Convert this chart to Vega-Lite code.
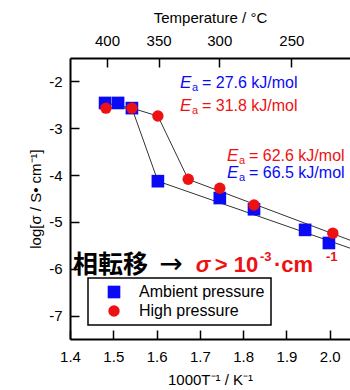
{
  "$schema": "https://vega.github.io/schema/vega-lite/v6.json",
  "width": 280,
  "height": 281,
  "autosize": {"type": "none"},
  "padding": {"left": 70, "top": 58, "right": 0, "bottom": 51},
  "background": "white",
  "config": {
    "view": {"stroke": null},
    "font": "Liberation Sans",
    "axis": {
      "grid": false,
      "labelFlush": false,
      "labelOverlap": false,
      "domainColor": "black",
      "domainWidth": 2,
      "tickColor": "black",
      "tickWidth": 1.5,
      "tickSize": -9,
      "labelColor": "black",
      "labelFont": "Liberation Sans",
      "labelFontSize": 15,
      "titleFont": "Liberation Sans",
      "titleFontSize": 15,
      "titleFontWeight": "normal",
      "titleColor": "black"
    },
    "legend": {
      "orient": "none",
      "legendX": 18,
      "legendY": 220,
      "padding": 6,
      "strokeColor": "black",
      "strokeWidth": 1.5,
      "fillColor": "white",
      "symbolOffset": 12,
      "labelOffset": 17,
      "rowPadding": 3,
      "labelFontSize": 16,
      "labelFont": "Liberation Sans",
      "labelColor": "black",
      "symbolSize": 110,
      "symbolStrokeWidth": 0
    }
  },
  "datasets": {
    "points": [
      {"series": "Ambient pressure", "x": 1.481, "y": -2.46},
      {"series": "Ambient pressure", "x": 1.511, "y": -2.46},
      {"series": "Ambient pressure", "x": 1.543, "y": -2.57},
      {"series": "Ambient pressure", "x": 1.603, "y": -4.13},
      {"series": "Ambient pressure", "x": 1.746, "y": -4.49},
      {"series": "Ambient pressure", "x": 1.825, "y": -4.73},
      {"series": "Ambient pressure", "x": 1.943, "y": -5.17},
      {"series": "Ambient pressure", "x": 1.998, "y": -5.45},
      {"series": "High pressure", "x": 1.483, "y": -2.57},
      {"series": "High pressure", "x": 1.543, "y": -2.57},
      {"series": "High pressure", "x": 1.603, "y": -2.74},
      {"series": "High pressure", "x": 1.673, "y": -4.09},
      {"series": "High pressure", "x": 1.746, "y": -4.28},
      {"series": "High pressure", "x": 1.825, "y": -4.64},
      {"series": "High pressure", "x": 2.007, "y": -5.24}
    ],
    "lines": [
      {"series": "Ambient pressure", "order": 1, "x": 1.481, "y": -2.46},
      {"series": "Ambient pressure", "order": 2, "x": 1.543, "y": -2.57},
      {"series": "Ambient pressure", "order": 3, "x": 1.603, "y": -4.13},
      {"series": "Ambient pressure", "order": 4, "x": 2.0467, "y": -5.56},
      {"series": "High pressure", "order": 1, "x": 1.483, "y": -2.57},
      {"series": "High pressure", "order": 2, "x": 1.543, "y": -2.57},
      {"series": "High pressure", "order": 3, "x": 1.603, "y": -2.74},
      {"series": "High pressure", "order": 4, "x": 1.673, "y": -4.09},
      {"series": "High pressure", "order": 5, "x": 2.0467, "y": -5.39}
    ],
    "ea": [
      {"series": "Ambient pressure", "x": 1.654, "y": -2.04, "label": "= 27.6 kJ/mol"},
      {"series": "High pressure", "x": 1.654, "y": -2.52, "label": "= 31.8 kJ/mol"},
      {"series": "High pressure", "x": 1.7626, "y": -3.6, "label": "= 62.6 kJ/mol"},
      {"series": "Ambient pressure", "x": 1.7626, "y": -3.96, "label": "= 66.5 kJ/mol"}
    ],
    "note": [
      {"kind": "cjk", "x": 1.407, "y": -5.92, "label": "相転移"},
      {"kind": "arrow", "x": 1.606, "y": -5.92, "label": "→"},
      {"kind": "sigma", "x": 1.6905, "y": -5.92, "label": "σ"},
      {"kind": "red", "x": 1.7346, "y": -5.92, "label": "> 10"},
      {"kind": "sup", "x": 1.8388, "y": -5.92, "label": "-3"},
      {"kind": "red", "x": 1.871, "y": -5.92, "label": "·cm"},
      {"kind": "sup", "x": 1.991, "y": -5.92, "label": "-1"}
    ]
  },
  "layer": [
    {
      "encoding": {
        "x": {"field": "x", "type": "quantitative", "scale": {"domain": [1.4, 2.0467], "nice": false, "zero": false},
          "axis": {"orient": "bottom", "values": [1.4, 1.5, 1.6, 1.7, 1.8, 1.9, 2.0], "format": ".1f", "labelPadding": 19, "title": "1000T⁻¹ / K⁻¹", "titlePadding": 8}},
        "y": {"field": "y", "type": "quantitative", "scale": {"domain": [-7.5, -1.5], "nice": false, "zero": false},
          "axis": {"orient": "left", "values": [-7, -6, -5, -4, -3, -2], "labelExpr": "'' + datum.value", "labelPadding": 17, "title": "log[σ / S• cm⁻¹]", "titlePadding": 5}}
      },
      "layer": [
        {
          "data": {"name": "lines"},
          "mark": {"type": "line", "color": "#333333", "strokeWidth": 1},
          "encoding": {
            "detail": {"field": "series"},
            "order": {"field": "order", "type": "quantitative"}
          }
        },
        {
          "data": {"name": "points"},
          "mark": {"type": "point", "filled": true, "opacity": 1},
          "encoding": {
            "color": {"field": "series", "type": "nominal", "scale": {"domain": ["Ambient pressure", "High pressure"], "range": ["#0a0af5", "#ee1111"]}, "legend": {"title": null}},
            "shape": {"field": "series", "type": "nominal", "scale": {"domain": ["Ambient pressure", "High pressure"], "range": ["square", "circle"]}, "legend": {"title": null}},
            "size": {"field": "series", "type": "nominal", "scale": {"domain": ["Ambient pressure", "High pressure"], "range": [160, 130]}, "legend": null}
          }
        },
        {
          "data": {"name": "ea"},
          "mark": {"type": "text", "align": "left", "baseline": "middle", "fontSize": 17, "fontStyle": "italic"},
          "encoding": {
            "text": {"value": "E"},
            "color": {"field": "series", "type": "nominal", "legend": null}
          }
        },
        {
          "data": {"name": "ea"},
          "mark": {"type": "text", "align": "left", "baseline": "middle", "fontSize": 11, "dx": 12, "dy": 5},
          "encoding": {
            "text": {"value": "a"},
            "color": {"field": "series", "type": "nominal", "legend": null}
          }
        },
        {
          "data": {"name": "ea"},
          "mark": {"type": "text", "align": "left", "baseline": "middle", "fontSize": 16, "dx": 22},
          "encoding": {
            "text": {"field": "label"},
            "color": {"field": "series", "type": "nominal", "legend": null}
          }
        },
        {
          "data": {"name": "note"},
          "transform": [{"filter": "datum.kind == 'cjk'"}],
          "mark": {"type": "text", "align": "left", "baseline": "middle", "fontSize": 25, "fontWeight": "bold", "font": "Noto Sans CJK JP", "color": "black"},
          "encoding": {"text": {"field": "label"}}
        },
        {
          "data": {"name": "note"},
          "transform": [{"filter": "datum.kind == 'arrow'"}],
          "mark": {"type": "text", "align": "left", "baseline": "middle", "fontSize": 28, "font": "DejaVu Sans", "color": "black"},
          "encoding": {"text": {"field": "label"}}
        },
        {
          "data": {"name": "note"},
          "transform": [{"filter": "datum.kind == 'sigma'"}],
          "mark": {"type": "text", "align": "left", "baseline": "middle", "fontSize": 22, "fontWeight": "bold", "fontStyle": "italic", "color": "#ee1111"},
          "encoding": {"text": {"field": "label"}}
        },
        {
          "data": {"name": "note"},
          "transform": [{"filter": "datum.kind == 'red'"}],
          "mark": {"type": "text", "align": "left", "baseline": "middle", "fontSize": 22, "fontWeight": "bold", "color": "#ee1111"},
          "encoding": {"text": {"field": "label"}}
        },
        {
          "data": {"name": "note"},
          "transform": [{"filter": "datum.kind == 'sup'"}],
          "mark": {"type": "text", "align": "left", "baseline": "middle", "fontSize": 13, "fontWeight": "bold", "dy": -8, "color": "#ee1111"},
          "encoding": {"text": {"field": "label"}}
        }
      ]
    },
    {
      "data": {"name": "points"},
      "mark": {"type": "point", "opacity": 0},
      "encoding": {
        "x": {"field": "x", "type": "quantitative", "scale": {"domain": [1.4, 2.0467], "nice": false, "zero": false},
          "axis": {"orient": "top", "values": [1.48555, 1.60468, 1.74474, 1.91132], "labelExpr": "format(1000 / datum.value - 273.15, '.0f')", "labelPadding": 19, "title": "Temperature / °C", "titlePadding": 8}}
      }
    }
  ],
  "resolve": {"scale": {"x": "independent"}}
}
